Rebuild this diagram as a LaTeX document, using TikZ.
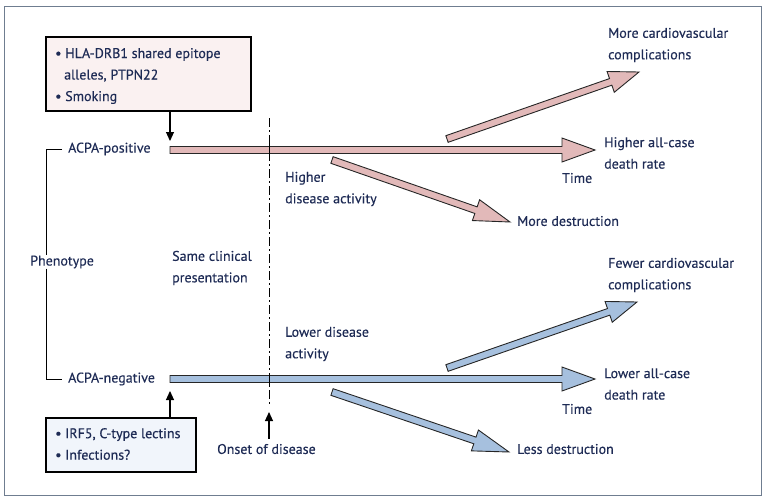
\documentclass[tikz,border=0pt]{standalone}
\usepackage{fontspec}
\setmainfont{PT Sans}[FakeBold=0.3]
\usetikzlibrary{calc,arrows.meta}
\definecolor{txt}{HTML}{1E2B55}
\definecolor{pinkfill}{HTML}{E2B9B9}
\definecolor{bluefill}{HTML}{A6C0DE}
\definecolor{pinkbox}{HTML}{FAF1F1}
\definecolor{bluebox}{HTML}{F1F5FB}
\definecolor{framec}{HTML}{6F7D90}
\newcommand{\fatarrow}[5]{%
  \path ($(#3)!#4!(#2)$) coordinate (H);
  \filldraw[fill=#1, draw=black!85, line width=0.9pt, line join=miter]
   ($(#2)!3.5pt!90:(#3)$) -- ($(H)!3.5pt!90:(#3)$) -- ($(H)!#5!90:(#3)$) -- (#3) --
   ($(H)!#5!-90:(#3)$) -- ($(H)!3.5pt!-90:(#3)$) -- ($(#2)!3.5pt!-90:(#3)$) -- cycle;}
\tikzset{
  lbl/.style={text=txt, font=\fontsize{14}{21.5}\selectfont, inner sep=0pt, anchor=west, align=left},
  factorbox/.style={draw=black, line width=1.1pt},
  thinarrow/.style={draw=black, line width=1.1pt, -{Triangle[length=9pt,width=8pt]}},
  brk/.style={draw=black, line width=1pt},
}
\begin{document}
\begin{tikzpicture}[x=1pt,y=-1pt]
\useasboundingbox (0,0) rectangle (764,498);
\draw[framec, line width=0.8pt] (4,6) rectangle (761,495);

% factor boxes
\filldraw[factorbox, fill=pinkbox] (46,37) rectangle (251,111);
\coordinate (topboxbot) at (170,111);
\node[lbl] (topfactors) at (55,76)
  {\textbullet\ HLA-DRB1 shared epitope\\\hspace*{9pt}alleles, PTPN22\\\textbullet\ Smoking};
\filldraw[factorbox, fill=bluebox] (46,418) rectangle (196,472);
\coordinate (botboxtop) at (170,418);
\node[lbl] (botfactors) at (55,444)
  {\textbullet\ IRF5, C-type lectins\\\textbullet\ Infections?};

% labels
\node[lbl] (pos) at (68,149) {ACPA-positive};
\node[lbl] (neg) at (68,379) {ACPA-negative};
\node[lbl] (phen) at (30,262) {Phenotype};
\node[lbl] (same) at (172,268) {Same clinical\\presentation};
\node[lbl] (hda) at (285,189) {Higher\\disease activity};
\node[lbl] (lda) at (285,344) {Lower disease\\activity};
\node[lbl] (mcc) at (608,45) {More cardiovascular\\complications};
\node[lbl] (hdr) at (604,153) {Higher all-case\\death rate};
\node[lbl] (time1) at (562,178) {Time};
\node[lbl] (md) at (517,221) {More destruction};
\node[lbl] (fcc) at (608,275) {Fewer cardiovascular\\complications};
\node[lbl] (ldr) at (604,384) {Lower all-case\\death rate};
\node[lbl] (time2) at (562,409) {Time};
\node[lbl] (ld) at (517,449) {Less destruction};
\node[lbl] (onset) at (217,449) {Onset of disease};

% bracket
\coordinate (bt) at (46,149);
\coordinate (bb) at (46,379);
\draw[brk] (pos.west) ++(-6,0) -- (bt) -- (bt |- phen.north);
\draw[brk] (bb |- phen.south) -- (bb) -- ($(neg.west)+(-6,0)$);

% onset dashed line
\coordinate (dtop) at (269,118);
\coordinate (dbot) at (269,404);
\draw[black, line width=1pt, dash pattern=on 9pt off 3pt on 2pt off 3pt] (dtop) -- (dbot);
\draw[thinarrow] (onset.north -| dbot) ++(0,-5) -- (269,412);

% thin arrows
\draw[thinarrow] (topboxbot) -- (170,141);
\draw[thinarrow] (botboxtop) -- (170,391);

% fat arrows positive
\coordinate (pA) at (170,150); \coordinate (pB) at (595,150);
\coordinate (puA) at (447,139); \coordinate (puB) at (639,72);
\coordinate (plA) at (332,160); \coordinate (plB) at (510,222);
\fatarrow{pinkfill}{puA}{puB}{30pt}{11pt}
\fatarrow{pinkfill}{plA}{plB}{36pt}{11pt}
\fatarrow{pinkfill}{pA}{pB}{33pt}{12pt}

% fat arrows negative
\coordinate (nA) at (170,379); \coordinate (nB) at (595,379);
\coordinate (nuA) at (447,368); \coordinate (nuB) at (637,302);
\coordinate (nlA) at (332,392); \coordinate (nlB) at (509,452);
\fatarrow{bluefill}{nuA}{nuB}{30pt}{11pt}
\fatarrow{bluefill}{nlA}{nlB}{36pt}{11pt}
\fatarrow{bluefill}{nA}{nB}{33pt}{12pt}

% dashed line over bars
\draw[black, line width=1pt] (269,144) -- (269,156);
\draw[black, line width=1pt] (269,373) -- (269,385);
\end{tikzpicture}
\end{document}
